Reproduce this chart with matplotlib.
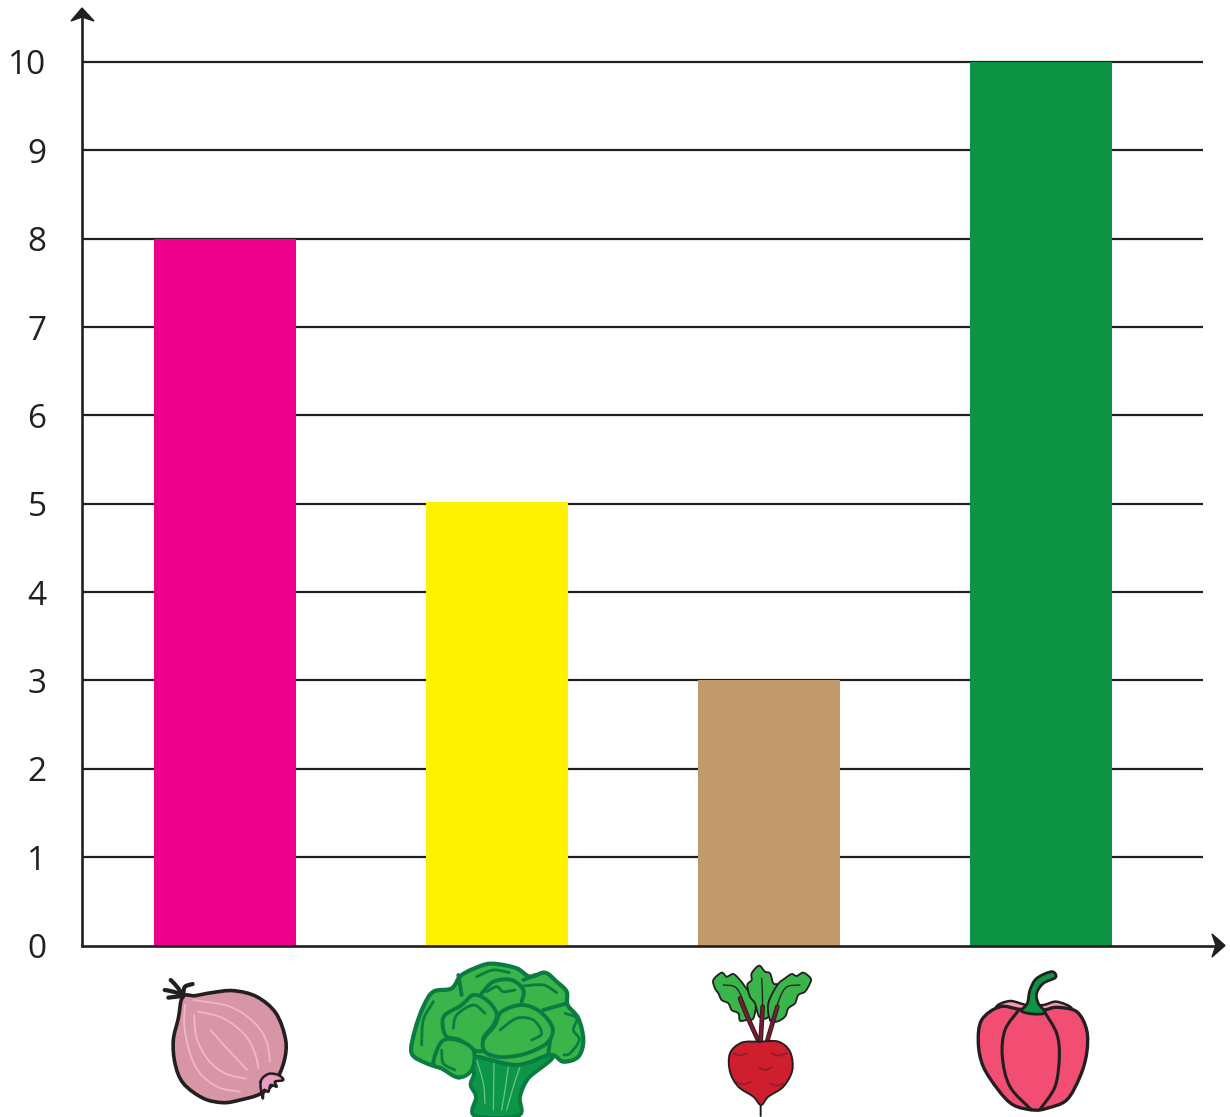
import numpy as np
import matplotlib
matplotlib.use("Agg")
import matplotlib.pyplot as plt
from matplotlib.path import Path
from matplotlib.patches import PathPatch, Polygon

plt.rcParams['font.family'] = ['Open Sans', 'DejaVu Sans']

categories = ['Onion', 'Broccoli', 'Beetroot', 'Pepper']
values = [8, 5.02, 3, 10]
bar_colors = ['#ec008c', '#fff200', '#c19a6b', '#0c9444']
y_ticks = list(range(0, 11))

W, H = 1230, 1117
INK = '#231f20'


def smooth(points, closed=True):
    # catmull-rom through the points, turned into bezier segments
    p = np.array(points, dtype=float)
    n = len(p)
    verts = [p[0]]
    codes = [Path.MOVETO]
    last = n if closed else n - 1
    for i in range(last):
        if closed:
            p0, p1, p2, p3 = p[(i - 1) % n], p[i], p[(i + 1) % n], p[(i + 2) % n]
        else:
            p0, p1, p2, p3 = p[max(i - 1, 0)], p[i], p[i + 1], p[min(i + 2, n - 1)]
        verts += [p1 + (p2 - p0) / 6, p2 - (p3 - p1) / 6, p2]
        codes += [Path.CURVE4] * 3
    return Path(verts, codes)


def shape(ax, points, origin, face='none', edge=INK, lw=1.5, closed=True, z=5):
    pts = [(origin[0] + x / 3, origin[1] + y / 3) for x, y in points]
    ax.add_patch(PathPatch(smooth(pts, closed), facecolor=face if closed else 'none',
                           edgecolor=edge, lw=lw, zorder=z, capstyle='round', joinstyle='round'))


fig = plt.figure(figsize=(W / 100, H / 100), dpi=100)
ax = fig.add_axes([82 / W, (H - 945.5) / H, (1203 - 82) / W, (945.5 - 62) / H])

x = np.arange(len(categories))
ax.bar(x, values, width=142 / 272, color=bar_colors, zorder=3)
ax.hlines(y_ticks[1:], -143 / 272, 3 + 162 / 272, color=INK, lw=1.6, zorder=2, clip_on=False)
ax.set_xlim(-143 / 272, 3 + 162 / 272)
ax.set_ylim(0, 10)
ax.set_xticks([])
ax.set_yticks(y_ticks)
ax.tick_params(axis='y', length=0, pad=25.5, labelsize=24, labelcolor=INK)
for s in ax.spines.values():
    s.set_visible(False)

# overlay in pixel coords for axis arrows and the vegetable pictures
ov = fig.add_axes([0, 0, 1, 1], facecolor='none')
ov.set_xlim(0, W)
ov.set_ylim(H, 0)
ov.axis('off')

ov.plot([82, 82], [947, 16], color=INK, lw=1.9, solid_capstyle='butt', zorder=6)
ov.plot([81, 1217], [945.5, 945.5], color=INK, lw=1.9, solid_capstyle='butt', zorder=6)
ov.add_patch(Polygon([(82, 8), (94, 21), (82, 17), (71, 21)], color=INK, zorder=7))
ov.add_patch(Polygon([(1225, 945.5), (1212, 934), (1216, 945.5), (1212, 957)], color=INK, zorder=7))

# onion
o = (140, 950)
shape(ov, [(128, 140), (165, 137), (215, 128), (280, 122), (350, 140), (408, 190), (437, 270), (432, 335), (405, 395),
           (360, 432), (300, 450), (250, 458), (190, 445), (130, 400), (105, 340), (100, 270), (115, 205)],
      o, face='#d795a6', lw=2.6)
for line in [[(135, 165), (133, 230), (150, 310), (180, 370), (235, 412), (300, 425)],
             [(162, 195), (170, 265), (205, 330), (255, 370), (318, 386)],
             [(175, 185), (250, 205), (315, 255), (345, 310), (355, 355)],
             [(160, 150), (270, 170), (345, 220), (380, 275), (390, 335)],
             [(212, 240), (265, 300), (322, 360)]]:
    shape(ov, line, o, edge='#efb6d2', lw=1.3, closed=False, z=6)
shape(ov, [(362, 395), (385, 372), (415, 375), (430, 390), (405, 395), (410, 410), (392, 405), (385, 425), (372, 420),
           (368, 445)], o, face='#eb9cc2', lw=1.8, z=7)
for line in [[(128, 142), (115, 115), (92, 90)], [(128, 135), (100, 125), (74, 120)],
             [(128, 138), (110, 140), (85, 143)], [(130, 130), (135, 110), (158, 102)]]:
    shape(ov, line, o, lw=3.0, closed=False, z=6)

# broccoli
b = (140, 950)
G = '#3ab54a'
DG = '#0b7c41'
shape(ov, [(1005, 310), (1002, 370), (992, 405), (1008, 440), (1004, 497), (1135, 497), (1140, 440), (1165, 385),
           (1235, 310)], b, face='#0d9648', edge=DG, lw=2.8)
for line in [[(1010, 330), (1030, 400), (1035, 460)], [(1062, 330), (1060, 480)],
             [(1105, 350), (1095, 420), (1085, 480)], [(1140, 350), (1120, 410), (1100, 480)]]:
    shape(ov, line, b, edge='#6cc48a', lw=0.9, closed=False, z=6)
shape(ov, [(1030, 45), (1070, 42), (1130, 55), (1170, 80), (1215, 68), (1250, 95), (1280, 125), (1283, 165), (1315, 205),
           (1330, 270), (1315, 320), (1270, 335), (1230, 315), (1130, 345), (1000, 320), (990, 360), (955, 382),
           (905, 355), (860, 340), (815, 310), (825, 240), (850, 170), (880, 125), (935, 115), (965, 75)],
      b, face=G, edge=DG, lw=3.0, z=6)
for line in [[(955, 75), (965, 135)], [(1025, 130), (1060, 95), (1115, 90), (1150, 120), (1145, 155)],
             [(1150, 90), (1185, 75)], [(1210, 180), (1280, 160)], [(1235, 235), (1225, 310)]]:
    shape(ov, line, b, edge=DG, lw=2.8, closed=False, z=7)
for fl in [[(915, 195), (965, 165), (1000, 135), (1040, 150), (1070, 190), (1060, 225), (1030, 265), (1035, 300),
            (1000, 300), (960, 270), (920, 260), (908, 225)],
           [(1030, 270), (1065, 225), (1085, 185), (1145, 165), (1200, 185), (1238, 235), (1220, 280), (1160, 310),
            (1110, 320), (1070, 320), (1035, 305)],
           [(880, 340), (905, 275), (950, 270), (1000, 300), (995, 360), (955, 382), (905, 355)]]:
    shape(ov, fl, b, face=G, edge=DG, lw=2.8, z=8)
for line in [[(1010, 80), (1060, 60), (1108, 68)], [(1040, 125), (1070, 110), (1090, 125), (1125, 120)],
             [(1150, 108), (1210, 105), (1250, 128)], [(940, 235), (950, 195), (1000, 165), (1035, 190)],
             [(1080, 240), (1130, 205), (1180, 210), (1205, 250), (1175, 270)],
             [(845, 285), (850, 210), (880, 155)], [(905, 300), (910, 340), (945, 360)],
             [(1275, 190), (1310, 205), (1300, 240), (1318, 270), (1290, 310), (1272, 315)]]:
    shape(ov, line, b, edge=DG, lw=2.0, closed=False, z=9)

# beetroot
r = (690, 950)
leaves = [[(170, 210), (150, 212), (145, 190), (125, 180), (115, 160), (95, 150), (85, 130), (75, 115), (70, 90),
           (95, 68), (110, 80), (130, 72), (150, 90), (165, 110), (180, 130), (197, 160), (190, 205)],
          [(208, 200), (195, 160), (180, 140), (172, 105), (185, 90), (185, 70), (207, 47), (225, 65), (240, 70), (250, 100),
           (262, 105), (245, 140), (235, 200)],
          [(240, 210), (235, 160), (262, 105), (285, 85), (305, 72), (320, 78), (340, 68), (362, 85), (360, 100), (345, 125),
           (325, 135), (315, 160), (295, 175), (285, 200), (260, 215)]]
for lf in leaves:
    shape(ov, lf, r, face=G, lw=1.3)
for stem in [[(100, 105), (140, 115), (170, 180), (205, 272)], [(215, 85), (218, 180), (212, 272)],
             [(330, 105), (285, 115), (255, 185), (232, 272)]]:
    shape(ov, stem, r, edge='#2a2326', lw=1.0, closed=False, z=6)
for stem in [[(150, 145), (172, 200), (205, 272)], [(218, 170), (212, 272)], [(262, 170), (232, 272)]]:
    shape(ov, stem, r, edge='#2a2326', lw=3.4, closed=False, z=6)
    shape(ov, stem, r, edge='#7d1a2c', lw=1.9, closed=False, z=6)
shape(ov, [(210, 275), (265, 275), (300, 305), (307, 360), (280, 410), (235, 440), (213, 465), (190, 440),
           (145, 410), (120, 365), (120, 310), (155, 278)], r, face='#cf1f2e', lw=1.4, z=7)
shape(ov, [(212, 465), (212, 498)], r, lw=1.4, closed=False, z=7)
for mark in [[(130, 310), (150, 316), (170, 310)], [(245, 310), (265, 317), (290, 310)], [(205, 352), (225, 360), (245, 352)],
             [(140, 396), (160, 403), (182, 396)], [(240, 400), (260, 407), (282, 400)]]:
    shape(ov, mark, r, edge='#8a1c2e', lw=1.2, closed=False, z=8)

# pepper
p = (690, 950)
shape(ov, [(920, 170), (960, 153), (1010, 165), (1060, 165), (1100, 155), (1145, 175), (1100, 190), (960, 190)],
      p, face='#f59ab0', lw=1.8)
shape(ov, [(930, 170), (990, 178), (1060, 180), (1100, 172), (1160, 185), (1190, 240), (1190, 310), (1170, 380),
           (1130, 450), (1070, 475), (1030, 480), (970, 465), (925, 420), (880, 350), (865, 280), (875, 210)],
      p, face='#f24e73', lw=2.4, z=6)
shape(ov, [(985, 182), (945, 240), (937, 320), (960, 410), (1025, 480)], p, lw=2.2, closed=False, z=7)
shape(ov, [(1065, 188), (1100, 250), (1108, 320), (1095, 410), (1050, 478)], p, lw=2.2, closed=False, z=7)
shape(ov, [(995, 183), (1012, 160), (1020, 120), (1040, 85), (1085, 65), (1097, 82), (1060, 100), (1040, 130), (1045, 160),
           (1065, 188), (1030, 192)], p, face='#0c9444', lw=2.0, z=8)

fig.savefig('out.png', dpi=100)
